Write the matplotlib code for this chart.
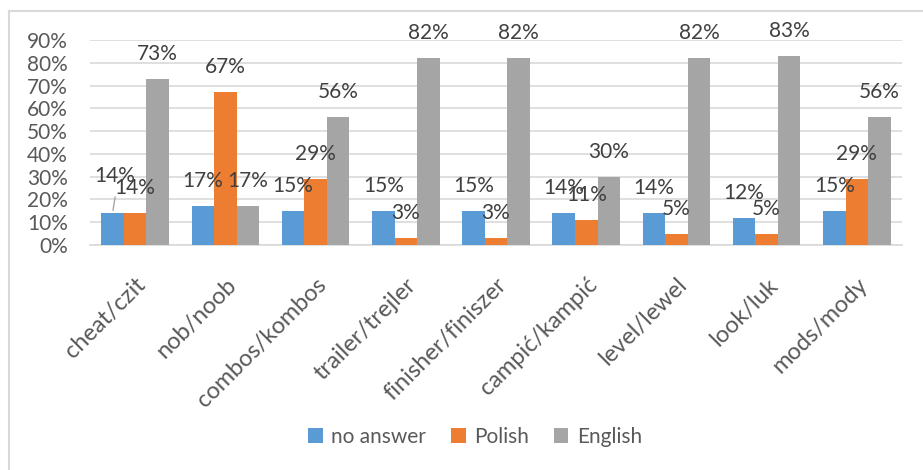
import matplotlib
matplotlib.use("Agg")
import matplotlib.pyplot as plt
from matplotlib.lines import Line2D
import numpy as np

categories = ["cheat/czit", "nob/noob", "combos/kombos", "trailer/trejler",
              "finisher/finiszer", "campić/kampić", "level/lewel", "look/luk",
              "mods/mody"]
no_answer = [14, 17, 15, 15, 15, 14, 14, 12, 15]
polish = [14, 67, 29, 3, 3, 11, 5, 5, 29]
english = [73, 17, 56, 82, 82, 30, 82, 83, 56]
series_names = ["no answer", "Polish", "English"]
y_ticks = [0, 10, 20, 30, 40, 50, 60, 70, 80, 90]

colors = ["#5B9BD5", "#ED7D31", "#A5A5A5"]
text_color = "#595959"
label_color = "#404040"
grid_color = "#D9D9D9"

plt.rcParams["font.family"] = ["Lato", "DejaVu Sans"]

W, H = 923, 470
fig = plt.figure(figsize=(W / 100, H / 100), dpi=100)
ax = fig.add_axes([90 / W, 1 - 245 / H, (902 - 90) / W, (245 - 40) / H])

x = np.arange(len(categories))
bw = 0.25
series = [no_answer, polish, english]
for i, (vals, col, name) in enumerate(zip(series, colors, series_names)):
    xs = x + (i - 1) * bw
    ax.bar(xs, np.array(vals) / 100, width=bw, color=col, label=name,
           zorder=3, linewidth=0)
    for j, (bx, v) in enumerate(zip(xs, vals)):
        dx, dy = 0, 25
        if i == 0 and j == 0:
            # this label is pushed aside and tied back with a leader line
            dx, dy = 2, 37
            ax.annotate("", xy=(bx, v / 100), xytext=(3, 19),
                        textcoords="offset pixels",
                        arrowprops=dict(arrowstyle="-", color="#A6A6A6", lw=1),
                        zorder=4)
        ax.annotate(f"{v}%", xy=(bx, v / 100), xytext=(dx, dy),
                    textcoords="offset pixels", ha="center", va="center",
                    fontsize=15, color=label_color, zorder=5)

ax.set_xlim(-0.5, len(categories) - 0.5)
ax.set_ylim(0, 0.9)
ax.set_yticks([t / 100 for t in y_ticks])
ax.set_yticklabels([f"{t}%" for t in y_ticks], fontsize=15, color=text_color)
ax.set_xticks(x)
ax.set_xticklabels(categories, rotation=45, ha="right", va="top",
                   rotation_mode="anchor", fontsize=17, color=text_color)
ax.tick_params(axis="both", length=0)
ax.tick_params(axis="y", pad=16)
ax.tick_params(axis="x", pad=21)
ax.grid(axis="y", color=grid_color, linewidth=1.2, zorder=0)
for s in ["top", "right", "left"]:
    ax.spines[s].set_visible(False)
ax.spines["bottom"].set_color(grid_color)
ax.spines["bottom"].set_linewidth(1.2)

leg = fig.legend(loc="center", bbox_to_anchor=(475 / W, 1 - 437 / H), ncol=3,
                 frameon=False, fontsize=15, handlelength=0.7, handleheight=0.7,
                 handletextpad=0.4, columnspacing=1.2)
for t in leg.get_texts():
    t.set_color(text_color)

# chart frame
fig.add_artist(Line2D([9 / W, 9 / W], [0, 1 - 11 / H], color=grid_color,
                      lw=1.5, transform=fig.transFigure))
fig.add_artist(Line2D([9 / W, 1], [1 - 11 / H, 1 - 11 / H], color=grid_color,
                      lw=1.5, transform=fig.transFigure))

fig.savefig("out.png", dpi=100, facecolor="white")
